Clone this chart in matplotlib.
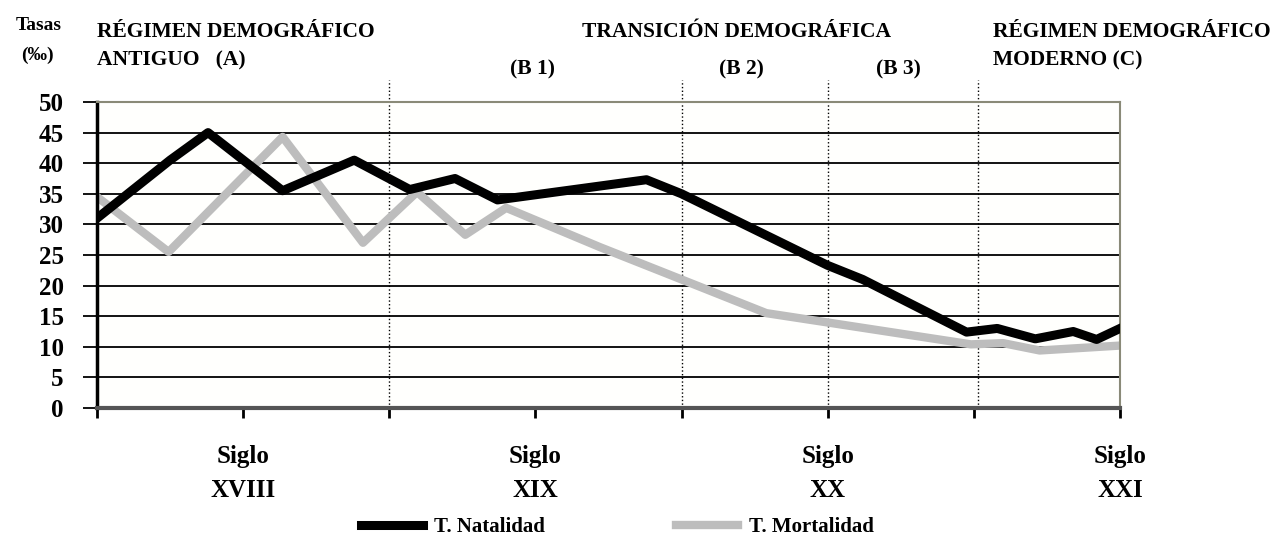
import matplotlib
matplotlib.use("Agg")
import matplotlib.pyplot as plt

# Tasas (por mil); eje x = intervalos entre marcas (0..7)
nat_x = [0, 0.5, 0.76, 1.27, 1.76, 2.14, 2.45, 2.74, 3.76, 4.0, 5.0, 5.24, 5.95, 6.16, 6.42, 6.68, 6.84, 7.0]
nat_y = [31, 40.5, 45, 35.5, 40.5, 35.7, 37.5, 34, 37.3, 35, 23.3, 21, 12.4, 13, 11.3, 12.5, 11.2, 13]

mort_x = [0, 0.49, 1.27, 1.82, 2.19, 2.52, 2.8, 3.44, 4.0, 4.58, 5.02, 5.98, 6.2, 6.45, 7.0]
mort_y = [34.5, 25.5, 44.3, 27, 35.3, 28.3, 32.7, 26.3, 21, 15.5, 13.9, 10.4, 10.6, 9.4, 10.2]

phase_bounds = [2, 4, 5, 6.03]
century_pos = [1, 3, 5, 7]
century_labels = ["Siglo\nXVIII", "Siglo\nXIX", "Siglo\nXX", "Siglo\nXXI"]
yticks = list(range(0, 55, 5))

W, H = 1282, 543
plt.rcParams["font.family"] = ["Liberation Serif", "DejaVu Serif"]
plt.rcParams["font.weight"] = "bold"

fig = plt.figure(figsize=(W / 100, H / 100), dpi=100)
ax = fig.add_axes([97 / W, 1 - 408 / H, (1120 - 97) / W, (408 - 102) / H])
ax.set_facecolor("#fffffd")

for y in yticks[1:-1]:
    ax.axhline(y, color="black", lw=1.3, zorder=1)

for xb in phase_bounds:
    ax.plot([xb, xb], [0, 53.6], ls=":", color="black", lw=1.0,
            clip_on=False, zorder=1)

ax.plot(mort_x, mort_y, color="#bdbdbd", lw=6, zorder=2, label="T. Mortalidad")
ax.plot(nat_x, nat_y, color="black", lw=6.5, zorder=3, label="T. Natalidad")

ax.set_xlim(0, 7)
ax.set_ylim(0, 50)
ax.set_yticks(yticks)
ax.set_yticklabels([str(v) for v in yticks], fontsize=18, fontweight="bold")
ax.set_xticks(range(0, 8))
ax.set_xticklabels([])
ax.tick_params(axis="y", length=10, width=1.3, pad=14)
ax.tick_params(axis="x", length=7, width=2)

ax.spines["left"].set_color("black")
ax.spines["left"].set_linewidth(2.5)
ax.spines["bottom"].set_color("#555555")
ax.spines["bottom"].set_linewidth(3)
for s in ("top", "right"):
    ax.spines[s].set_color("#8a8a78")
    ax.spines[s].set_linewidth(1.5)

# etiquetas de siglo
for xp, lab in zip(century_pos, century_labels):
    ax.text(xp, -6.0, lab, ha="center", va="top", fontsize=18,
            fontweight="bold", linespacing=1.65, clip_on=False)


def ftext(px, py, s, **kw):
    fig.text(px / W, 1 - py / H, s, fontweight="bold", **kw)


ftext(39, 25, "Tasas", ha="center", va="center", fontsize=14)
ftext(37, 55, "(‰)", ha="center", va="center", fontsize=14)
ftext(97, 32, "RÉGIMEN DEMOGRÁFICO", ha="left", va="center", fontsize=15.5)
ftext(97, 60, "ANTIGUO   (A)", ha="left", va="center", fontsize=15.5)
ftext(736, 32, "TRANSICIÓN DEMOGRÁFICA", ha="center", va="center", fontsize=15.5)
ftext(532, 69, "(B 1)", ha="center", va="center", fontsize=15.5)
ftext(741, 69, "(B 2)", ha="center", va="center", fontsize=15.5)
ftext(898, 69, "(B 3)", ha="center", va="center", fontsize=15.5)
ftext(993, 32, "RÉGIMEN DEMOGRÁFICO", ha="left", va="center", fontsize=15.5)
ftext(993, 60, "MODERNO (C)", ha="left", va="center", fontsize=15.5)

h = ax.get_legend_handles_labels()[0]
fig.legend([h[1], h[0]], ["T. Natalidad", "T. Mortalidad"], loc="center",
           bbox_to_anchor=(617 / W, 1 - 527 / H), ncol=2, frameon=False,
           prop={"size": 15, "weight": "bold"}, handlelength=3.0,
           handletextpad=0.5, columnspacing=6.3)

fig.savefig("out.png", dpi=100)
